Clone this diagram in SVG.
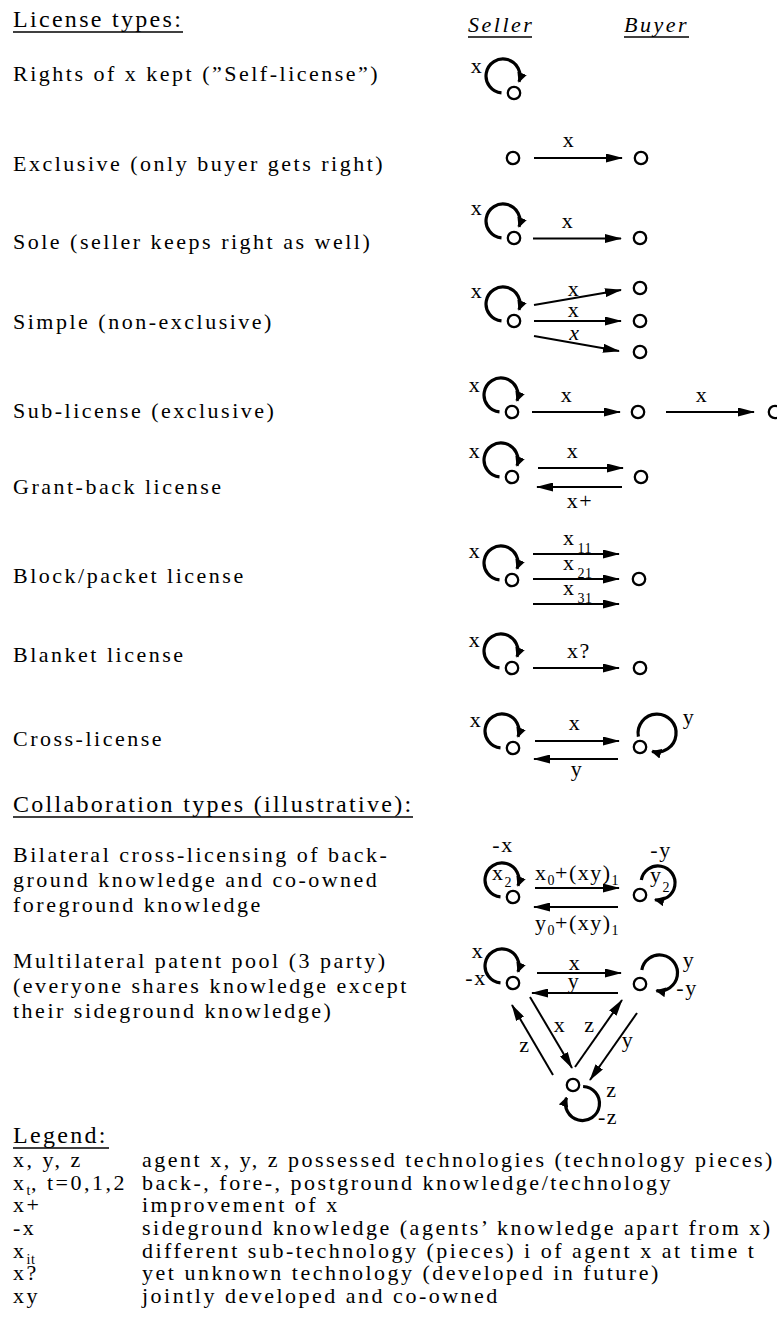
<svg xmlns="http://www.w3.org/2000/svg" width="777" height="1344" viewBox="0 0 777 1344">
<style>
text{font-family:"Liberation Serif","Times New Roman",serif;fill:#000}
.t{font-size:22px;letter-spacing:2.5px}
.h{font-size:24px;letter-spacing:2.3px}
.it{font-style:italic}
.l{font-size:22px;letter-spacing:1.5px;text-anchor:middle}
.ls{font-size:22px;letter-spacing:1.5px}
.sub{font-size:14px;letter-spacing:0.5px}
.ul{stroke:#000;stroke-width:1.3}
.node{fill:#fff;stroke:#000;stroke-width:2.3}
.edge{stroke:#000;stroke-width:2;fill:none;marker-end:url(#ah)}
.loop{stroke:#000;stroke-width:3.2;fill:none;marker-end:url(#lh)}
</style>
<defs>
<marker id="ah" viewBox="0 0 17 9" markerWidth="17" markerHeight="9" refX="16" refY="4.5" markerUnits="userSpaceOnUse" orient="auto"><path d="M0,0 L17,4.5 L0,9 z" fill="#000"/></marker>
<marker id="lh" viewBox="0 0 10 10" markerWidth="10" markerHeight="10" refX="9" refY="5" markerUnits="userSpaceOnUse" orient="auto"><path d="M0,0 L10,5 L0,10 z" fill="#000"/></marker>
</defs>
<rect width="777" height="1344" fill="#fff"/>

<g id="labels-left">
<text class="h" x="13" y="27">License types:</text>
<line class="ul" x1="13" y1="32" x2="183" y2="32"/>
<text class="t" x="13" y="81">Rights of x kept (”Self-license”)</text>
<text class="t" x="13" y="171">Exclusive (only buyer gets right)</text>
<text class="t" x="13" y="249">Sole (seller keeps right as well)</text>
<text class="t" x="13" y="329">Simple (non-exclusive)</text>
<text class="t" x="13" y="418">Sub-license (exclusive)</text>
<text class="t" x="13" y="494">Grant-back license</text>
<text class="t" x="13" y="583">Block/packet license</text>
<text class="t" x="13" y="662">Blanket license</text>
<text class="t" x="13" y="746">Cross-license</text>
<text class="h" x="13" y="812">Collaboration types (illustrative):</text>
<line class="ul" x1="13" y1="817" x2="413" y2="817"/>
<text class="t" x="13" y="862">Bilateral cross-licensing of back-</text>
<text class="t" x="13" y="887">ground knowledge and co-owned</text>
<text class="t" x="13" y="912">foreground knowledge</text>
<text class="t" x="13" y="968">Multilateral patent pool (3 party)</text>
<text class="t" x="13" y="993">(everyone shares knowledge except</text>
<text class="t" x="13" y="1018">their sideground knowledge)</text>
</g>

<g id="column-heads">
<text class="t it" x="468" y="32">Seller</text>
<line class="ul" x1="468" y1="37" x2="532" y2="37"/>
<text class="t it" x="624" y="32">Buyer</text>
<line class="ul" x1="624" y1="37" x2="689" y2="37"/>
</g>

<g id="legend">
<text class="h" x="13" y="1143">Legend:</text>
<line class="ul" x1="13" y1="1148" x2="109" y2="1148"/>
<text class="t" x="13" y="1167">x, y, z</text>
<text class="t" x="142" y="1167">agent x, y, z possessed technologies (technology pieces)</text>
<text class="t" x="13" y="1190">x<tspan class="sub" dy="5">t</tspan><tspan dy="-5">, t=0,1,2</tspan></text>
<text class="t" x="142" y="1190">back-, fore-, postground knowledge/technology</text>
<text class="t" x="13" y="1212">x+</text>
<text class="t" x="142" y="1212">improvement of x</text>
<text class="t" x="13" y="1235">-x</text>
<text class="t" x="142" y="1235">sideground knowledge (agents’ knowledge apart from x)</text>
<text class="t" x="13" y="1258">x<tspan class="sub" dy="6">it</tspan></text>
<text class="t" x="142" y="1258">different sub-technology (pieces) i of agent x at time t</text>
<text class="t" x="13" y="1280">x?</text>
<text class="t" x="142" y="1280">yet unknown technology (developed in future)</text>
<text class="t" x="13" y="1303">xy</text>
<text class="t" x="142" y="1303">jointly developed and co-owned</text>
</g>

<g id="connectors">
<line class="edge" x1="534" y1="158" x2="622" y2="158"/>
<text class="l" x="569" y="147">x</text>
<line class="edge" x1="533" y1="238.5" x2="621" y2="238.5"/>
<text class="l" x="568" y="228">x</text>
<line class="edge" x1="534" y1="305" x2="621" y2="290"/>
<line class="edge" x1="534" y1="321" x2="621" y2="321"/>
<line class="edge" x1="534" y1="336" x2="619" y2="351"/>
<text class="l" x="574" y="296">x</text>
<text class="l" x="574" y="317">x</text>
<text class="l it" x="575" y="340">x</text>
<line class="edge" x1="532" y1="412" x2="620" y2="412"/>
<line class="edge" x1="666" y1="412" x2="754" y2="412"/>
<text class="l" x="567" y="402">x</text>
<text class="l" x="702" y="402">x</text>
<line class="edge" x1="538" y1="468" x2="623" y2="468"/>
<line class="edge" x1="622" y1="487" x2="537" y2="487"/>
<text class="l" x="573" y="458">x</text>
<text class="l" x="580" y="508">x+</text>
<line class="edge" x1="533" y1="554" x2="619" y2="554"/>
<line class="edge" x1="533" y1="579" x2="619" y2="579"/>
<line class="edge" x1="533" y1="604" x2="619" y2="604"/>
<text class="ls" x="563" y="545">x<tspan class="sub" dx="2" dy="8">11</tspan></text>
<text class="ls" x="563" y="570">x<tspan class="sub" dx="2" dy="8">21</tspan></text>
<text class="ls" x="563" y="595">x<tspan class="sub" dx="2" dy="8">31</tspan></text>
<line class="edge" x1="533" y1="668" x2="619" y2="668"/>
<text class="l" x="579" y="658">x?</text>
<line class="edge" x1="535" y1="741" x2="619" y2="741"/>
<line class="edge" x1="618" y1="759" x2="534" y2="759"/>
<text class="l" x="575" y="730">x</text>
<text class="l" x="577" y="776">y</text>
<line class="edge" x1="535" y1="888" x2="619" y2="888"/>
<line class="edge" x1="618" y1="907" x2="534" y2="907"/>
<text class="ls" x="535" y="880">x<tspan class="sub" dy="5">0</tspan><tspan dy="-5">+(xy)</tspan><tspan class="sub" dy="5">1</tspan></text>
<text class="ls" x="535" y="930">y<tspan class="sub" dy="5">0</tspan><tspan dy="-5">+(xy)</tspan><tspan class="sub" dy="5">1</tspan></text>
<line class="edge" x1="537" y1="973" x2="621" y2="973"/>
<line class="edge" x1="618" y1="993" x2="532" y2="993"/>
<text class="l" x="575" y="970">x</text>
<text class="l" x="574" y="988">y</text>
<line class="edge" x1="553" y1="1075" x2="512" y2="1005"/>
<line class="edge" x1="530" y1="997" x2="572" y2="1068"/>
<line class="edge" x1="575" y1="1067" x2="622" y2="1000"/>
<line class="edge" x1="637" y1="1013" x2="590" y2="1080"/>
<text class="l" x="525" y="1052">z</text>
<text class="l" x="560" y="1032">x</text>
<text class="l" x="590" y="1032">z</text>
<text class="l" x="628" y="1047">y</text>
</g>

<g id="node-self">
<path class="loop" d="M501.5 92.9 A17 17 0 1 1 519 81.8"/>
<circle class="node" cx="514" cy="93" r="6.2"/>
<text class="l" x="477" y="73">x</text>
</g>
<g id="node-excl-seller"><circle class="node" cx="513" cy="158" r="6.2"/></g>
<g id="node-excl-buyer"><circle class="node" cx="641" cy="158" r="6.2"/></g>

<g id="node-sole-seller">
<path class="loop" d="M501.5 237.9 A17 17 0 1 1 519 226.8"/>
<circle class="node" cx="514" cy="238" r="6.2"/>
<text class="l" x="477" y="215">x</text>
</g>
<g id="node-sole-buyer"><circle class="node" cx="640" cy="238" r="6.2"/></g>

<g id="node-simple-seller">
<path class="loop" d="M501.5 320.9 A17 17 0 1 1 519 309.8"/>
<circle class="node" cx="514" cy="321" r="6.2"/>
<text class="l" x="477" y="298">x</text>
</g>
<g id="node-simple-buyer1"><circle class="node" cx="640" cy="288" r="6.2"/></g>
<g id="node-simple-buyer2"><circle class="node" cx="640" cy="321" r="6.2"/></g>
<g id="node-simple-buyer3"><circle class="node" cx="640" cy="352" r="6.2"/></g>

<g id="node-sub-seller">
<path class="loop" d="M499.5 411.9 A17 17 0 1 1 517 400.8"/>
<circle class="node" cx="512" cy="412" r="6.2"/>
<text class="l" x="475" y="392">x</text>
</g>
<g id="node-sub-buyer"><circle class="node" cx="638" cy="412" r="6.2"/></g>
<g id="node-sub-third"><circle class="node" cx="775" cy="412" r="6.2"/></g>

<g id="node-grant-seller">
<path class="loop" d="M499.5 476.9 A17 17 0 1 1 517 465.8"/>
<circle class="node" cx="512" cy="477" r="6.2"/>
<text class="l" x="475" y="458">x</text>
</g>
<g id="node-grant-buyer"><circle class="node" cx="641" cy="477" r="6.2"/></g>

<g id="node-block-seller">
<path class="loop" d="M499.5 579.9 A17 17 0 1 1 517 568.8"/>
<circle class="node" cx="512" cy="580" r="6.2"/>
<text class="l" x="475" y="558">x</text>
</g>
<g id="node-block-buyer"><circle class="node" cx="639" cy="579" r="6.2"/></g>

<g id="node-blanket-seller">
<path class="loop" d="M499.5 667.9 A17 17 0 1 1 517 656.8"/>
<circle class="node" cx="512" cy="668" r="6.2"/>
<text class="l" x="475" y="647">x</text>
</g>
<g id="node-blanket-buyer"><circle class="node" cx="640" cy="668" r="6.2"/></g>

<g id="node-cross-seller">
<path class="loop" d="M500.5 747.9 A17 17 0 1 1 518 736.8"/>
<circle class="node" cx="513" cy="748" r="6.2"/>
<text class="l" x="476" y="727">x</text>
</g>
<g id="node-cross-buyer">
<path class="loop" d="M638.4 736.6 A19 19 0 1 1 652.1 751.4"/>
<circle class="node" cx="640" cy="747" r="6.2"/>
<text class="l" x="689" y="724">y</text>
</g>

<g id="node-bilateral-x">
<path class="loop" d="M500.5 896.9 A17 17 0 1 1 518 885.8"/>
<circle class="node" cx="513" cy="897" r="6.2"/>
<text class="ls" x="492" y="880">x<tspan class="sub" dy="7">2</tspan></text>
<text class="l" x="503" y="852">-x</text>
</g>
<g id="node-bilateral-y">
<path class="loop" d="M641.3 880 A17 17 0 1 1 655 899.7"/>
<circle class="node" cx="640" cy="895" r="6.2"/>
<text class="ls" x="650" y="882">y<tspan class="sub" dy="10">2</tspan></text>
<text class="l" x="661" y="857">-y</text>
</g>

<g id="node-pool-x">
<path class="loop" d="M500.5 982.9 A17 17 0 1 1 518 971.8"/>
<circle class="node" cx="513" cy="983" r="6.2"/>
<text class="l" x="478" y="958">x</text>
<text class="l" x="476" y="985">-x</text>
</g>
<g id="node-pool-y">
<path class="loop" d="M641.8 969.9 A18 18 0 1 1 656.4 990.7"/>
<circle class="node" cx="640" cy="984" r="6.2"/>
<text class="l" x="689" y="967">y</text>
<text class="l" x="687" y="995">-y</text>
</g>
<g id="node-pool-z">
<path class="loop" d="M583.1 1086.5 A17 17 0 1 1 566.5 1097.7"/>
<circle class="node" cx="573" cy="1085" r="6.2"/>
<text class="l" x="612" y="1097">z</text>
<text class="l" x="608" y="1124">-z</text>
</g>
</svg>
